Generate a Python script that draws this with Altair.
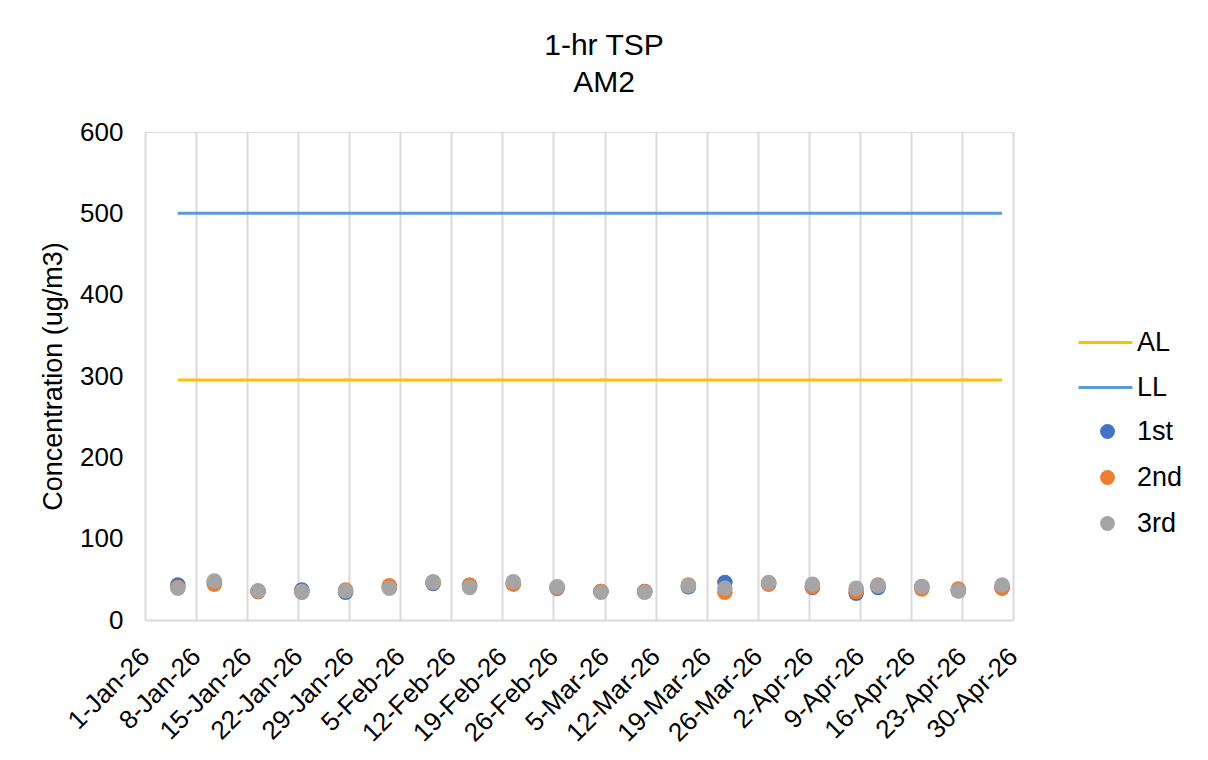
import altair as alt
import pandas as pd

# ---- data ----
dates = ["2026-01-05T12:00:00Z", "2026-01-10T12:00:00Z", "2026-01-16T12:00:00Z",
         "2026-01-22T12:00:00Z", "2026-01-28T12:00:00Z", "2026-02-03T12:00:00Z",
         "2026-02-09T12:00:00Z", "2026-02-14T12:00:00Z", "2026-02-20T12:00:00Z",
         "2026-02-26T12:00:00Z", "2026-03-04T12:00:00Z", "2026-03-10T12:00:00Z",
         "2026-03-16T12:00:00Z", "2026-03-21T12:00:00Z", "2026-03-27T12:00:00Z",
         "2026-04-02T12:00:00Z", "2026-04-08T12:00:00Z", "2026-04-11T12:00:00Z",
         "2026-04-17T12:00:00Z", "2026-04-22T12:00:00Z", "2026-04-28T12:00:00Z"]
first = [43, 46, 35, 37, 34, 40, 45, 42, 45, 39, 35, 35, 41, 46, 45, 40, 33, 40, 41, 36, 40]
second = [40, 44, 35, 34, 37, 42, 46, 43, 44, 40, 35, 35, 43, 34, 44, 41, 35, 43, 38, 38, 39]
third = [39, 48, 36, 35, 36, 39, 47, 40, 47, 41, 34, 34, 42, 39, 46, 44, 39, 42, 41, 36, 43]
series_names = ["1st", "2nd", "3rd"]
series_colors = ["#4472C4", "#ED7D31", "#A5A5A5"]

level_names = ["AL", "LL"]
level_values = [295, 500]
level_colors = ["#FFC000", "#5B9BD5"]

tick_dates = [(1, 1), (1, 8), (1, 15), (1, 22), (1, 29), (2, 5), (2, 12), (2, 19),
              (2, 26), (3, 5), (3, 12), (3, 19), (3, 26), (4, 2), (4, 9), (4, 16),
              (4, 23), (4, 30)]

# ---- tables ----
pts = pd.concat([
    pd.DataFrame({"date": dates, "value": vals, "series": name})
    for name, vals in zip(series_names, [first, second, third])
], ignore_index=True)

lines = pd.DataFrame({
    "date": [d for _ in level_names for d in (dates[0], dates[-1])],
    "value": [v for v in level_values for _ in range(2)],
    "level": [n for n in level_names for _ in range(2)],
})

FONT = "Liberation Sans"
FS = 27

x_enc = alt.X(
    "date:T",
    scale=alt.Scale(type="utc",
                    domain=[alt.DateTime(year=2026, month=1, date=1, utc=True),
                            alt.DateTime(year=2026, month=4, date=30, utc=True)]),
    axis=alt.Axis(
        values=[alt.DateTime(year=2026, month=m, date=d, utc=True) for m, d in tick_dates],
        labelExpr="utcFormat(datum.value, '%-d-%b-%y')",
        labelAngle=-45, labelAlign="right", labelBaseline="middle",
        labelPadding=32, labelOverlap=False, labelBound=False,
        labelFontSize=26, labelColor="#000000", labelFont=FONT,
        grid=True, gridColor="#D9D9D9", gridWidth=2,
        domainColor="#D9D9D9", domainWidth=2, ticks=False, title=None,
    ),
)

y_enc = alt.Y(
    "value:Q",
    scale=alt.Scale(domain=[0, 600], nice=False),
    axis=alt.Axis(
        values=[0, 100, 200, 300, 400, 500, 600], grid=False, domain=False,
        ticks=False, labelFontSize=26, labelColor="#000000", labelFont=FONT,
        labelPadding=22, title="Concentration (ug/m3)", titleFontSize=FS,
        titleFont=FONT, titleColor="#000000", titleFontWeight="normal",
        titlePadding=12,
    ),
)

line_layer = alt.Chart(lines).mark_line(strokeWidth=3).encode(
    x=x_enc,
    y=y_enc,
    stroke=alt.Stroke(
        "level:N",
        scale=alt.Scale(domain=level_names, range=level_colors),
        legend=alt.Legend(
            title=None, orient="none", legendX=932, legendY=182,
            symbolType="stroke", symbolSize=2916, symbolStrokeWidth=3,
            labelFontSize=FS, labelFont=FONT, labelColor="#000000",
            labelOffset=3, rowPadding=3,
        ),
    ),
    detail="level:N",
)

point_layer = alt.Chart(pts).mark_circle(size=240, opacity=1).encode(
    x=x_enc,
    y=y_enc,
    fill=alt.Fill(
        "series:N",
        scale=alt.Scale(domain=series_names, range=series_colors),
        legend=alt.Legend(
            title=None, orient="none", legendX=949, legendY=286,
            symbolType="circle", symbolSize=220, symbolStrokeWidth=0,
            symbolOpacity=1, labelFontSize=FS, labelFont=FONT,
            labelColor="#000000", labelOffset=16, rowPadding=18,
        ),
    ),
)

chart = alt.layer(line_layer, point_layer).properties(
    width=868,
    height=488,
    autosize=alt.AutoSizeParams(type="none"),
    padding={"left": 137, "top": 124, "right": 187, "bottom": 132},
    title=alt.TitleParams(
        text=["1-hr TSP", "AM2"], fontSize=30, font=FONT, color="#000000",
        fontWeight="normal", anchor="middle", frame="group", dx=25,
        offset=21, lineHeight=37,
    ),
).configure_view(stroke=None).configure(background="#FFFFFF")

chart.save("out.html", embed_options={"renderer": "svg", "actions": False})
